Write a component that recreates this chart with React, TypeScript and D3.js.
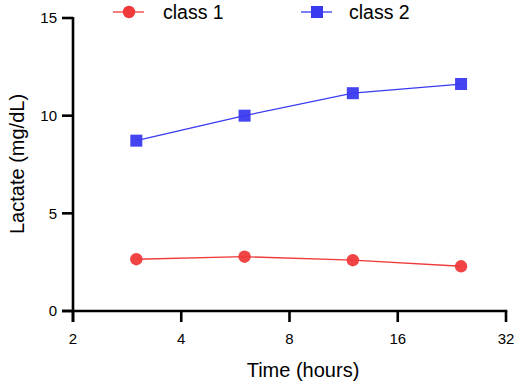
import React from "react";
import * as d3 from "d3";

const times = [3, 6, 12, 24];
const class1 = [2.65, 2.78, 2.6, 2.29];
const class2 = [8.72, 10.0, 11.15, 11.62];
const xTicks = [2, 4, 8, 16, 32];
const yTicks = [0, 5, 10, 15];
const seriesNames = ["class 1", "class 2"];

const W = 530, H = 387;
const left = 73, right = 506, top = 18, bottom = 311;
const RED = "#f03a3a";
const BLUE = "#3a3af0";
const FONT = "Liberation Sans, Arial, sans-serif";

export default function App() {
  const x = d3.scaleLog().base(2).domain([2, 32]).range([left, right]);
  const y = d3.scaleLinear().domain([0, 15]).range([bottom, top]);
  const line = d3.line<number>().x((_, i) => x(times[i])).y((d) => y(d));
  const sym = d3.symbol().type(d3.symbolSquare).size(144);

  return (
    <svg width={W} height={H} style={{ position: "absolute", left: 0, top: 0 }} fontFamily={FONT}>
      <rect width={W} height={H} fill="#fff" />
      {/* axes */}
      <line x1={left} x2={left} y1={top - 1} y2={bottom + 11} stroke="#000" strokeWidth={2.6} />
      <line x1={left - 11} x2={right + 1.3} y1={bottom} y2={bottom} stroke="#000" strokeWidth={2.6} />
      {yTicks.map((t) => (
        <g key={"y" + t}>
          <line x1={left - 11} x2={left} y1={y(t)} y2={y(t)} stroke="#000" strokeWidth={2.6} />
          <text x={left - 16} y={y(t)} dy="0.35em" textAnchor="end" fontSize={15}>{t}</text>
        </g>
      ))}
      {xTicks.map((t) => (
        <g key={"x" + t}>
          <line x1={x(t)} x2={x(t)} y1={bottom} y2={bottom + 11} stroke="#000" strokeWidth={2.6} />
          <text x={x(t)} y={bottom + 28} dy="0.35em" textAnchor="middle" fontSize={15}>{t}</text>
        </g>
      ))}
      <text x={303} y={370} dy="0.35em" textAnchor="middle" fontSize={20}>Time (hours)</text>
      <text transform={`translate(${17},${164}) rotate(-90)`} dy="0.35em" textAnchor="middle" fontSize={20}>Lactate (mg/dL)</text>

      {/* series */}
      <path d={line(class1) || ""} fill="none" stroke={RED} strokeWidth={1.3} />
      {class1.map((v, i) => (
        <circle key={"c" + i} cx={x(times[i])} cy={y(v)} r={6.2} fill={RED} fillOpacity={0.95} />
      ))}
      <path d={line(class2) || ""} fill="none" stroke={BLUE} strokeWidth={1.3} />
      {class2.map((v, i) => (
        <path key={"s" + i} d={sym() || ""} transform={`translate(${x(times[i])},${y(v)})`} fill={BLUE} fillOpacity={0.95} />
      ))}

      {/* legend */}
      <line x1={113} x2={144} y1={12} y2={12} stroke={RED} strokeWidth={1.3} />
      <circle cx={129} cy={12} r={6.2} fill={RED} />
      <text x={163} y={12} dy="0.35em" fontSize={19.5}>{seriesNames[0]}</text>
      <line x1={301} x2={332} y1={12} y2={12} stroke={BLUE} strokeWidth={1.3} />
      <path d={sym() || ""} transform="translate(317,12)" fill={BLUE} />
      <text x={349} y={12} dy="0.35em" fontSize={19.5}>{seriesNames[1]}</text>
    </svg>
  );
}
